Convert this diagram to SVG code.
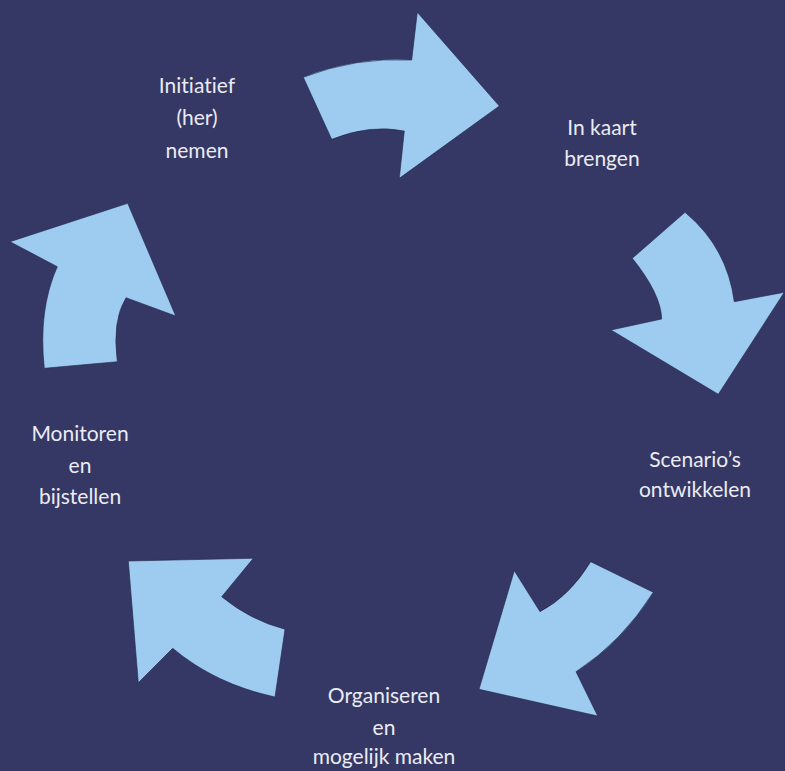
<svg xmlns="http://www.w3.org/2000/svg" width="785" height="771" viewBox="0 0 785 771">
<style>
.bg{fill:#353865}
.arrow{fill:#9ecbf0;stroke:#22254a;stroke-width:0.6}
.lbl{font-family:Lato,"Liberation Sans",sans-serif;font-size:21px;font-weight:400;fill:#ebebf2;text-anchor:middle;font-variant-ligatures:none}
</style>
<rect class="bg" x="0" y="0" width="785" height="771"/>
<g id="connectors">
<path id="arrow1" class="arrow" d="M303.3,77.3 L331.7,139.3 Q370,124 404.3,131 L399.3,178.3 L499.3,106 L417.3,12.3 L411.7,60 Q355,57 303.3,77.3 Z"/>
<path id="arrow2" class="arrow" d="M685,212.3 L632.3,258.3 Q661,294 661.7,319 L611,330 L718.3,394.3 L784.3,292.3 L734.3,301.7 Q727,247 685,212.3 Z"/>
<path id="arrow3" class="arrow" d="M590.7,561.7 L653.3,592.3 Q622,642 576,671.7 L597.7,716 L479,689.3 L514.3,570.7 L540,611.7 Q570,596 590.7,561.7 Z"/>
<path id="arrow4" class="arrow" d="M128.3,561 L253.3,558.3 L221.7,596.7 Q250,620 285,629.3 L275,697 Q215,684 172.7,648.3 L138.3,682.7 Z"/>
<path id="arrow5" class="arrow" d="M10,241.7 L57.3,266.7 Q38,310 44.3,368.3 L117.3,361.7 Q112,320 126,297.7 L175.7,316 L127.7,203.3 Z"/>
</g>
<g id="node-initiatief">
<text class="lbl" x="197" y="93">Initiatief</text>
<text class="lbl" x="197" y="125">(her)</text>
<text class="lbl" x="197" y="158">nemen</text>
</g>
<g id="node-in-kaart">
<text class="lbl" x="602" y="135">In kaart</text>
<text class="lbl" x="602" y="166">brengen</text>
</g>
<g id="node-scenarios">
<text class="lbl" x="695" y="467">Scenario’s</text>
<text class="lbl" x="695" y="497">ontwikkelen</text>
</g>
<g id="node-organiseren">
<text class="lbl" x="384" y="703">Organiseren</text>
<text class="lbl" x="384" y="735">en</text>
<text class="lbl" x="384" y="764">mogelijk maken</text>
</g>
<g id="node-monitoren">
<text class="lbl" x="80" y="441">Monitoren</text>
<text class="lbl" x="80" y="473">en</text>
<text class="lbl" x="80" y="504">bijstellen</text>
</g>
</svg>
